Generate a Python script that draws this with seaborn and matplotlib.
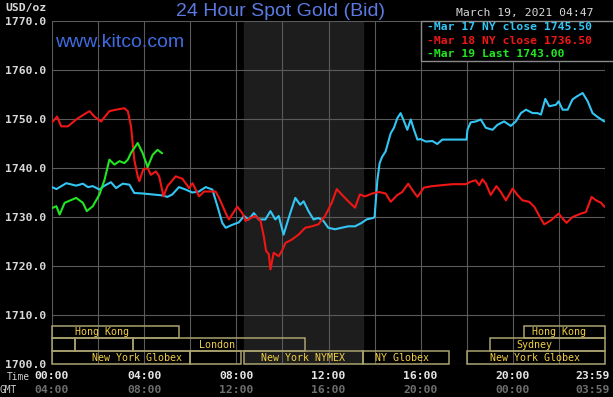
import matplotlib
matplotlib.use("Agg")
import matplotlib.pyplot as plt
from matplotlib.patches import Rectangle
import seaborn as sns
import pandas as pd

# Series (hora del día, precio USD/oz)
horas_mar17 = [0.00, 0.19, 0.62, 1.05, 1.34, 1.56, 1.77, 2.06, 2.28, 2.56, 2.78, 3.07, 3.36, 3.57,
               3.93, 4.37, 4.80, 5.01, 5.22, 5.51, 5.80, 6.09, 6.38, 6.67, 6.96, 7.18, 7.39, 7.54,
               7.82, 8.11, 8.33, 8.54, 8.76, 8.97, 9.26, 9.48, 9.69, 9.84, 10.05, 10.34, 10.56,
               10.77, 10.92, 11.13, 11.35, 11.56, 11.78, 11.99, 12.28, 12.57, 12.86, 13.15, 13.44,
               13.65, 13.94, 14.00, 14.12, 14.22, 14.33, 14.48, 14.70, 14.84, 14.99, 15.13, 15.28,
               15.42, 15.57, 15.71, 15.86, 16.00, 16.22, 16.51, 16.72, 16.94, 17.99, 18.03, 18.17,
               18.39, 18.61, 18.83, 19.12, 19.33, 19.62, 19.91, 20.13, 20.35, 20.57, 20.86, 21.07,
               21.22, 21.41, 21.58, 21.87, 21.99, 22.16, 22.38, 22.59, 22.81, 23.03, 23.25, 23.46,
               23.68, 23.97]
precio_mar17 = [1736.1, 1735.7, 1736.9, 1736.4, 1736.8, 1736.1, 1736.3, 1735.6, 1736.4, 1737.1,
                1735.9, 1736.8, 1736.6, 1734.9, 1734.8, 1734.6, 1734.4, 1734.1, 1734.6, 1736.1,
                1735.6, 1735.0, 1735.2, 1736.1, 1735.6, 1732.2, 1728.8, 1727.8, 1728.4, 1728.9,
                1730.2, 1729.5, 1730.8, 1729.5, 1729.5, 1731.2, 1729.5, 1730.2, 1726.4, 1730.8,
                1733.9, 1732.5, 1733.2, 1731.2, 1729.5, 1729.8, 1729.2, 1727.8, 1727.5, 1727.8,
                1728.1, 1728.1, 1728.8, 1729.5, 1729.8, 1730.0, 1737.5, 1741.0, 1742.3, 1743.4,
                1747.1, 1748.2, 1750.2, 1751.2, 1749.5, 1747.8, 1749.9, 1747.8, 1745.8, 1745.9,
                1745.4, 1745.5, 1744.9, 1745.8, 1745.8, 1747.8, 1749.3, 1749.5, 1749.9, 1748.2,
                1747.8, 1748.8, 1749.5, 1748.6, 1749.5, 1751.2, 1751.9, 1751.2, 1751.2, 1750.9,
                1754.1, 1752.6, 1752.9, 1753.6, 1751.9, 1751.9, 1754.0, 1754.7, 1755.3, 1753.6,
                1751.2, 1750.4, 1749.5]

horas_mar18 = [0.00, 0.22, 0.40, 0.69, 1.05, 1.41, 1.63, 1.84, 2.13, 2.49, 2.78, 3.14, 3.29, 3.43,
               3.57, 3.72, 3.79, 3.96, 4.15, 4.29, 4.51, 4.65, 4.84, 5.01, 5.37, 5.66, 5.95, 6.10,
               6.38, 6.60, 7.10, 7.25, 7.54, 7.68, 8.04, 8.26, 8.40, 8.62, 8.83, 9.05, 9.19, 9.29,
               9.41, 9.48, 9.62, 9.84, 9.98, 10.13, 10.41, 10.70, 10.99, 11.28, 11.56, 11.85,
               12.14, 12.36, 12.57, 12.86, 13.15, 13.36, 13.58, 13.90, 14.19, 14.48, 14.70, 14.99,
               15.20, 15.46, 15.64, 15.86, 16.14, 16.51, 16.94, 17.38, 17.96, 18.17, 18.39, 18.54,
               18.68, 18.83, 19.04, 19.29, 19.48, 19.70, 19.99, 20.20, 20.42, 20.71, 20.93, 21.14,
               21.36, 21.65, 21.99, 22.16, 22.33, 22.59, 22.96, 23.17, 23.42, 23.61, 23.83, 23.97]
precio_mar18 = [1749.3, 1750.5, 1748.5, 1748.5, 1749.9, 1751.0, 1751.6, 1750.5, 1749.5, 1751.6,
                1751.9, 1752.2, 1751.6, 1748.5, 1741.7, 1738.3, 1737.3, 1739.7, 1740.0, 1738.6,
                1739.3, 1738.3, 1734.2, 1736.3, 1738.3, 1737.8, 1735.9, 1736.9, 1734.2, 1735.2,
                1735.2, 1733.9, 1730.8, 1729.5, 1732.1, 1730.8, 1729.2, 1729.8, 1730.2, 1729.2,
                1726.1, 1723.1, 1722.4, 1719.3, 1722.7, 1722.0, 1723.1, 1724.7, 1725.4, 1726.4,
                1727.8, 1728.1, 1728.5, 1730.2, 1732.9, 1735.7, 1734.6, 1733.2, 1731.9, 1734.6,
                1734.2, 1734.8, 1735.1, 1734.8, 1733.1, 1734.5, 1735.1, 1736.8, 1735.5, 1734.1,
                1736.0, 1736.3, 1736.5, 1736.7, 1736.7, 1737.2, 1737.5, 1736.5, 1737.7, 1736.8,
                1734.5, 1736.3, 1735.1, 1733.4, 1735.8, 1734.5, 1733.4, 1733.1, 1732.1, 1730.3,
                1728.5, 1729.3, 1730.7, 1729.7, 1728.8, 1730.0, 1730.7, 1731.0, 1734.1, 1733.4,
                1732.9, 1732.1]

horas_mar19 = [0.00, 0.19, 0.33, 0.55, 1.05, 1.34, 1.51, 1.77, 2.06, 2.28, 2.49, 2.71, 2.93, 3.14,
               3.29, 3.43, 3.72, 3.93, 4.15, 4.37, 4.58, 4.78]
precio_mar19 = [1731.8, 1732.2, 1730.5, 1732.9, 1733.9, 1732.9, 1731.2, 1732.2, 1734.6, 1737.6,
                1741.7, 1740.7, 1741.4, 1741.0, 1741.7, 1743.1, 1745.1, 1743.1, 1740.2, 1742.7,
                1743.7, 1743.0]

leyenda = ["-Mar 17 NY close 1745.50", "-Mar 18 NY close 1736.50", "-Mar 19 Last 1743.00"]
colores = ["#33c6f4", "#f01616", "#22e622"]

ticks_y = [1700, 1710, 1720, 1730, 1740, 1750, 1760, 1770]
horas_etiqueta = [0, 4, 8, 12, 16, 20]
etiquetas_hora = ["00:00", "04:00", "08:00", "12:00", "16:00", "20:00"]
etiquetas_gmt = ["04:00", "08:00", "12:00", "16:00", "20:00", "00:00"]

# Sesiones de mercado: (fila, inicio, fin, texto, posición del texto)
sesiones = [
    (0, 0.0, 5.5, "Hong Kong", 2.15),
    (0, 20.5, 24.0, "Hong Kong", 22.0),
    (1, 0.0, 1.0, "", 0),
    (1, 1.0, 3.5, "", 0),
    (1, 3.5, 11.0, "London", 7.15),
    (1, 19.0, 24.0, "Sydney", 20.95),
    (2, 0.0, 6.0, "New York Globex", 3.7),
    (2, 6.0, 8.2, "", 0),
    (2, 8.33, 13.5, "New York NYMEX", 10.9),
    (2, 13.5, 17.25, "NY Globex", 15.2),
    (2, 18.0, 24.0, "New York Globex", 20.95),
]

sns.set_style("dark")
plt.rcParams["font.family"] = ["DejaVu Sans Mono"]

tabla = pd.concat([
    pd.DataFrame({"hora": horas_mar17, "precio": precio_mar17, "serie": leyenda[0]}),
    pd.DataFrame({"hora": horas_mar18, "precio": precio_mar18, "serie": leyenda[1]}),
    pd.DataFrame({"hora": horas_mar19, "precio": precio_mar19, "serie": leyenda[2]}),
])

figura = plt.figure(figsize=(6.13, 3.97), dpi=100, facecolor="black")
ax = figura.add_axes([52 / 613, 33 / 397, 553 / 613, 343 / 397])
ax.set_facecolor("black")

# zona NYMEX sombreada
ax.axvspan(8.333, 13.5, color="#1d1d1d", zorder=0)

sns.lineplot(data=tabla, x="hora", y="precio", hue="serie", palette=colores,
             estimator=None, sort=False, linewidth=1.5, legend=False, ax=ax, zorder=5)

ax.set_xlim(0, 24)
ax.set_ylim(1700, 1770)
ax.set_xticks(range(0, 25, 2))
ax.set_xticklabels([])
ax.set_yticks(ticks_y)
ax.set_yticklabels([f"{v:.1f}" for v in ticks_y], fontsize=8.2, fontweight="bold",
                   color="#d8d8d8")
ax.tick_params(length=0, pad=4)
ax.grid(True, color="#5a5a5a", linewidth=0.8)
ax.set_axisbelow(True)
ax.set_xlabel("")
ax.set_ylabel("")
for borde in ax.spines.values():
    borde.set_visible(False)

# cajas de sesiones
filas_y = [(1705.3, 1707.75), (1702.65, 1705.3), (1700.0, 1702.65)]
for fila, inicio, fin, texto, pos in sesiones:
    y0, y1 = filas_y[fila]
    ax.add_patch(Rectangle((inicio, y0), fin - inicio, y1 - y0, fill=False,
                           edgecolor="#aaa36e", linewidth=1.1, zorder=3, clip_on=False))
    if texto:
        ax.text(pos, (y0 + y1) / 2, texto, color="#f2cf45", fontsize=7.2,
                ha="center", va="center", zorder=4)

# caja de leyenda
ax.add_patch(Rectangle((16.0, 1761.8), 9, 8.2, facecolor="black", edgecolor="#8a8a8a",
                       linewidth=1, zorder=6, clip_on=False))
for i, (texto, color) in enumerate(zip(leyenda, colores)):
    ax.text(16.28, 1768.7 - i * 2.7, texto, color=color, fontsize=8.2, fontweight="bold",
            ha="left", va="center", zorder=7)

# etiquetas de tiempo
eje_x = ax.get_xaxis_transform()
fila_hora = -0.034
fila_gmt = -0.076
for h, et, gmt in zip(horas_etiqueta, etiquetas_hora, etiquetas_gmt):
    ax.text(h, fila_hora, et, transform=eje_x, color="#e6e6e6", fontsize=8.2,
            fontweight="bold", ha="center", va="center", clip_on=False)
    ax.text(h, fila_gmt, gmt, transform=eje_x, color="#6e6e6e", fontsize=8.2,
            fontweight="bold", ha="center", va="center", clip_on=False)
ax.text(24.2, fila_hora, "23:59", transform=eje_x, color="#e6e6e6", fontsize=8.2,
        fontweight="bold", ha="right", va="center", clip_on=False)
ax.text(24.2, fila_gmt, "03:59", transform=eje_x, color="#6e6e6e", fontsize=8.2,
        fontweight="bold", ha="right", va="center", clip_on=False)

figura.text(7 / 613, 1 - 377 / 397, "Time", color="#cfcfcf", fontsize=6.9,
            ha="left", va="center")
figura.text(0, 1 - 390 / 397, "GMT", color="#cfcfcf", fontsize=6.9,
            ha="left", va="center")
figura.text(5 / 613, 1 - 8 / 397, "USD/oz", color="#d8d8d8", fontsize=8.2,
            fontweight="bold", ha="left", va="center")
figura.text(593 / 613, 1 - 13 / 397, "March 19, 2021 04:47", color="#d8d8d8", fontsize=8.2,
            ha="right", va="center")

figura.text(280 / 613, 1 - 11 / 397, "24 Hour Spot Gold (Bid)", color="#5a7ae0",
            fontsize=14, family="Liberation Sans", ha="center", va="center")
ax.text(0.006, 0.936, "www.kitco.com", transform=ax.transAxes, color="#3e6be0",
        fontsize=14, family="Liberation Sans", ha="left", va="center", zorder=8)

figura.savefig("out.png", dpi=100, facecolor="black")
plt.close(figura)
